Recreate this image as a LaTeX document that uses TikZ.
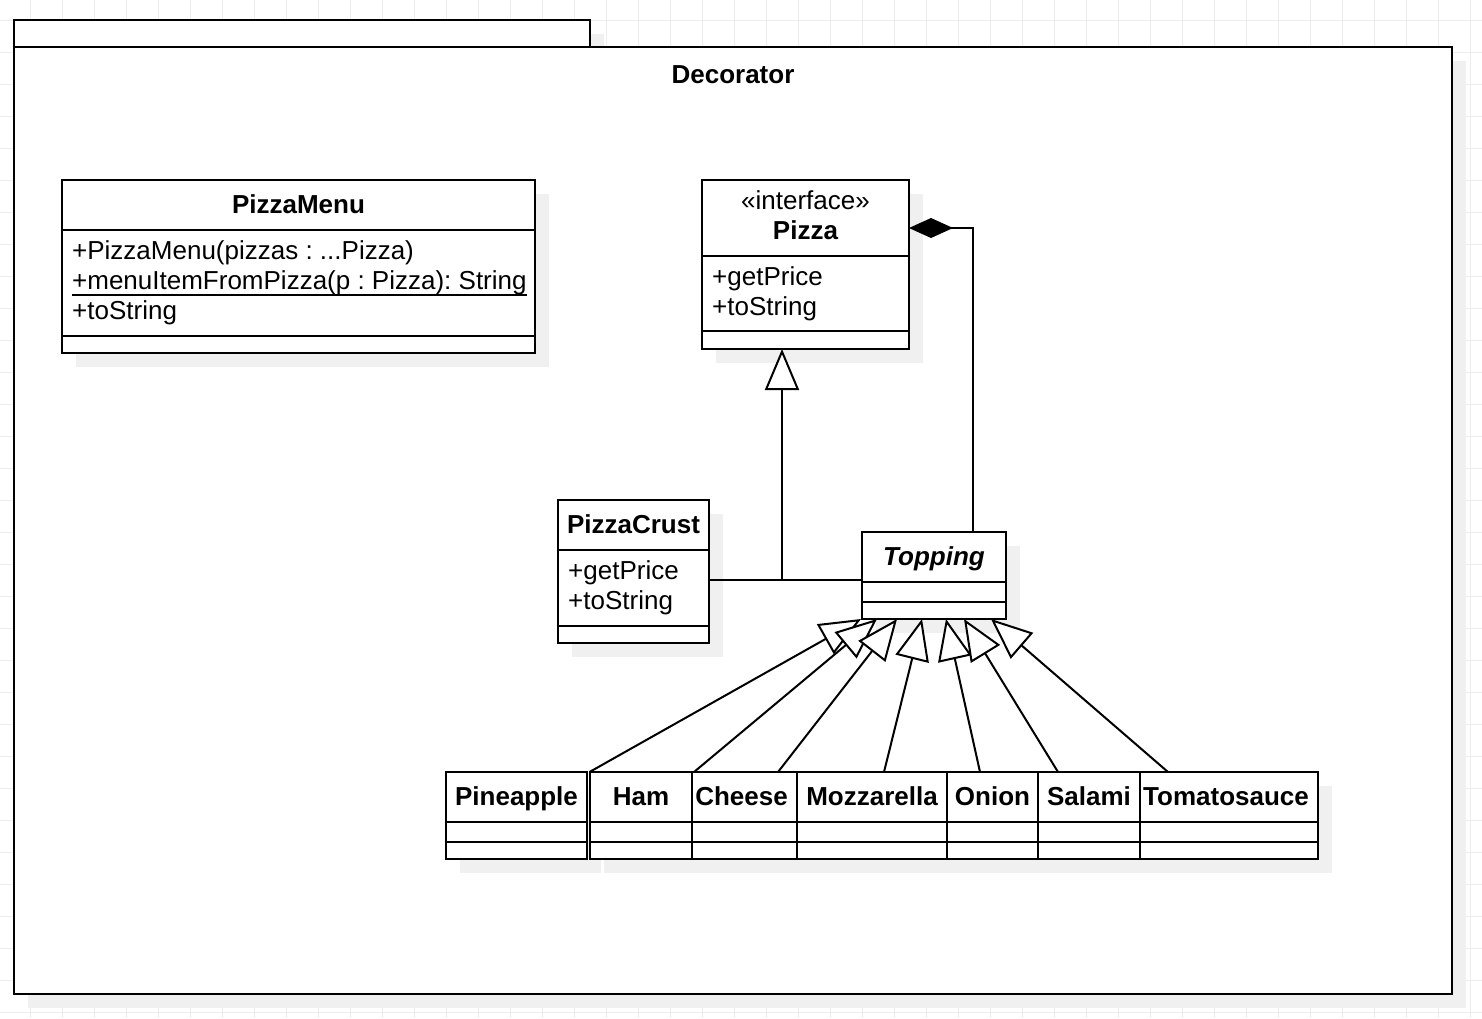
\documentclass[tikz,border=0pt]{standalone}
\usepackage{fontspec}
\setmainfont{Liberation Sans}
\usetikzlibrary{arrows.meta,calc}
\frenchspacing

\definecolor{gridc}{RGB}{236,236,236}
\definecolor{shadowc}{RGB}{240,240,240}

% underline for static members, drawn with a 2pt rule
\newcommand{\staticop}[1]{\setbox0\hbox{#1}\rlap{\rule[-7pt]{\wd0}{2pt}}\box0}

\tikzset{
  gridline/.style={draw=gridc, line width=1pt},
  umlbox/.style={draw, line width=2pt, fill=white, inner sep=0pt, outer sep=0pt, anchor=north west},
  boxline/.style={line width=2pt},
  txt/.style={inner sep=0pt, font=\fontsize{26pt}{30pt}\selectfont},
  ctitle/.style={txt, anchor=base, font=\fontsize{26pt}{30pt}\selectfont\bfseries},
  attr/.style={txt, anchor=base west},
  edge/.style={draw, line width=2pt},
  gen/.style={edge, -{Triangle[open, fill=white, length=41pt, width=34pt]}},
  comp/.style={edge, -{Diamond[length=44pt, width=20pt]}},
}

% name, x1, y1, x2, y2, header rule, operations rule
\newcommand{\umlclass}[7]{%
  \fill[shadowc] (#2+14,#3+14) rectangle (#4+14,#5+14);
  \node[umlbox, minimum width={(#4-#2)*1pt}, minimum height={(#5-#3)*1pt}] (#1) at (#2,#3) {};
  \draw[boxline] (#2,#6) -- (#4,#6);
  \draw[boxline] (#2,#7) -- (#4,#7);
}

\begin{document}
\begin{tikzpicture}[x=1pt, y=-1pt]
\useasboundingbox (0,0) rectangle (1482,1018);
\fill[white] (0,0) rectangle (1482,1018);

% background grid
\foreach \gx in {30,62,...,1470} \draw[gridline] (\gx,0) -- (\gx,1018);
\foreach \gy in {20,52,...,1012} \draw[gridline] (0,\gy) -- (1482,\gy);

% package frame
\fill[shadowc] (28,34) rectangle (604,61);
\fill[shadowc] (28,61) rectangle (1466,1008);
\node[umlbox, minimum width=576pt, minimum height=27pt] (pkgtab) at (14,20) {};
\node[umlbox, minimum width=1438pt, minimum height=947pt] (pkg) at (14,47) {};
\node[ctitle] (pkgname) at (733,83) {Decorator};

% PizzaMenu
\umlclass{menu}{62}{180}{535}{353}{230}{336}
\node[ctitle] (menu-t) at (298.5,213) {PizzaMenu};
\node[attr] (menu-a1) at (72,259) {+PizzaMenu(pizzas : ...Pizza)};
\node[attr] (menu-a2) at (72,289) {\staticop{+menuItemFromPizza(p : Pizza): String}};
\node[attr] (menu-a3) at (72,319) {+toString};

% Pizza interface
\umlclass{pizza}{702}{180}{909}{349}{256}{331}
\node[txt, anchor=base] (pizza-s) at (805.5,209) {«interface»};
\node[ctitle] (pizza-t) at (805.5,239) {Pizza};
\node[attr] (pizza-a1) at (712,285) {+getPrice};
\node[attr] (pizza-a2) at (712,315) {+toString};

% PizzaCrust
\umlclass{crust}{558}{500}{709}{643}{550}{626}
\node[ctitle] (crust-t) at (633.5,533) {PizzaCrust};
\node[attr] (crust-a1) at (568,579) {+getPrice};
\node[attr] (crust-a2) at (568,609) {+toString};

% Topping
\umlclass{topping}{862}{532}{1006}{619}{582}{602}
\node[ctitle, font=\fontsize{26pt}{30pt}\selectfont\bfseries\itshape] (topping-t) at (934,565) {Topping};

% concrete toppings
\umlclass{pine}{446}{772}{587}{859}{822}{842}
\umlclass{ham}{590}{772}{692}{859}{822}{842}
\umlclass{cheese}{692}{772}{797}{859}{822}{842}
\umlclass{mozz}{797}{772}{947}{859}{822}{842}
\umlclass{onion}{947}{772}{1038}{859}{822}{842}
\umlclass{salami}{1038}{772}{1140}{859}{822}{842}
\umlclass{tomato}{1140}{772}{1318}{859}{822}{842}
\node[ctitle] (pine-t) at (516.5,805) {Pineapple};
\node[ctitle] (ham-t) at (641,805) {Ham};
\node[ctitle] (cheese-t) at (741.5,805) {Cheese};
\node[ctitle] (mozz-t) at (872,805) {Mozzarella};
\node[ctitle] (onion-t) at (992.5,805) {Onion};
\node[ctitle] (salami-t) at (1089,805) {Salami};
\node[ctitle] (tomato-t) at (1226,805) {Tomatosauce};

% realisations of Pizza
\coordinate (jn) at (782,580);
\draw[edge] (crust.east |- jn) -- (jn);
\draw[edge] (topping.west |- jn) -- (jn);
\draw[gen] (jn) -- (jn |- pizza.south);

% Topping wraps a Pizza
\draw[comp] ([xshift=39pt]topping.north) |- ([yshift=-48pt]pizza.north east);

% toppings extend Topping
\draw[gen] ([xshift=73pt]pine.north) -- ([xshift=-73pt]topping.south);
\draw[gen] ([xshift=53pt]ham.north) -- ([xshift=-57pt]topping.south);
\draw[gen] ([xshift=33.5pt]cheese.north) -- ([xshift=-37pt]topping.south);
\draw[gen] ([xshift=12pt]mozz.north) -- ([xshift=-12pt]topping.south);
\draw[gen] ([xshift=-12.5pt]onion.north) -- ([xshift=12pt]topping.south);
\draw[gen] ([xshift=-31pt]salami.north) -- ([xshift=30pt]topping.south);
\draw[gen] ([xshift=-61pt]tomato.north) -- ([xshift=57pt]topping.south);
\end{tikzpicture}
\end{document}
